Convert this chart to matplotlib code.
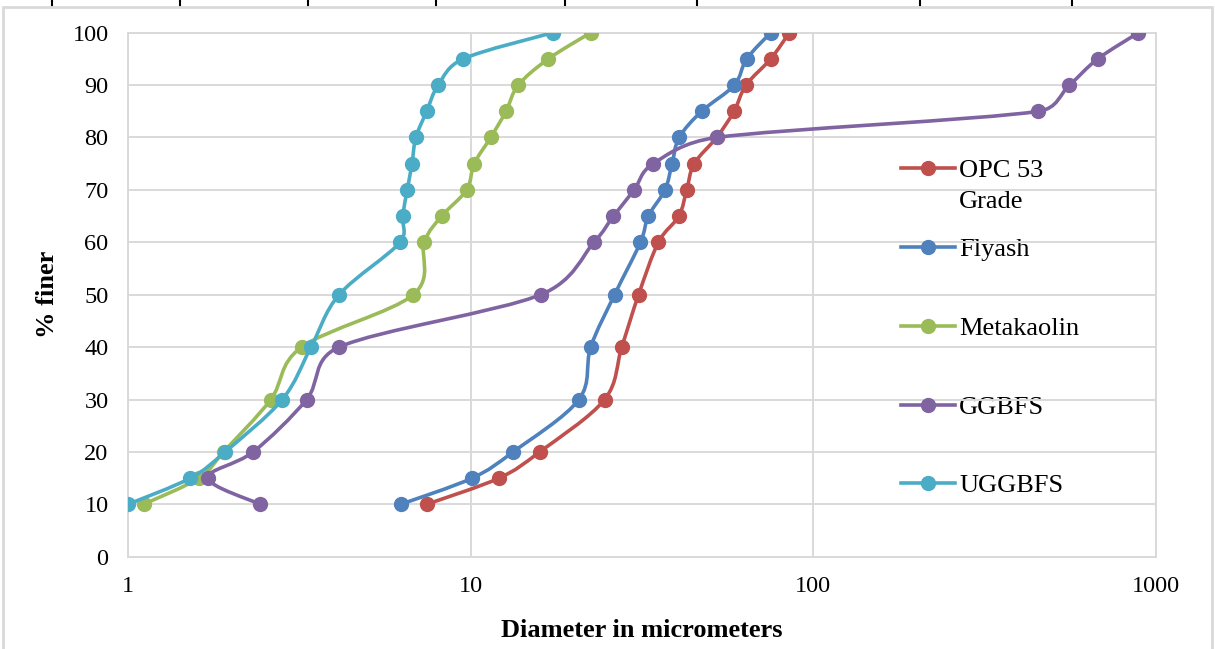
import numpy as np
import matplotlib
matplotlib.use("Agg")
import matplotlib.pyplot as plt
from matplotlib.path import Path
from matplotlib.patches import PathPatch, Rectangle
from matplotlib.lines import Line2D

plt.rcParams["font.family"] = ["Liberation Serif", "DejaVu Serif"]

# --------------------------------------------------
# DATA  (particle size distribution)
# --------------------------------------------------

PCT_FINER = [10, 15, 20, 30, 40, 50, 60, 65, 70, 75, 80, 85, 90, 95, 100]

OPC_53 = [7.44, 12.1, 15.9, 24.6, 27.6, 30.9, 35.3, 40.5, 42.7, 44.9, 52.2, 58.7, 63.6, 75.1, 85.1]
FLYASH = [6.25, 10.1, 13.3, 20.7, 22.4, 26.3, 31.3, 33.0, 36.9, 38.7, 40.6, 47.2, 58.8, 63.9, 75.1]
METAKAOLIN = [1.11, 1.61, 1.90, 2.61, 3.21, 6.80, 7.32, 8.23, 9.73, 10.24, 11.44, 12.68, 13.77, 16.85, 22.4]
GGBFS = [2.43, 1.71, 2.32, 3.32, 4.13, 16.0, 22.9, 26.1, 30.0, 34.1, 52.2, 454, 559, 676, 889]
UGGBFS = [1.0, 1.52, 1.92, 2.82, 3.42, 4.13, 6.22, 6.33, 6.53, 6.74, 6.92, 7.44, 8.04, 9.51, 17.35]

SERIES_NAMES = ["OPC 53\nGrade", "Flyash", "Metakaolin", "GGBFS", "UGGBFS"]
SERIES_DATA = [OPC_53, FLYASH, METAKAOLIN, GGBFS, UGGBFS]
COLORS = ["#C0504D", "#4F81BD", "#9BBB59", "#8064A2", "#4BACC6"]

GRID = "#d9d9d9"
W, H, DPI = 1215, 649, 100


def smooth_path(xs, ys, sx, sy):
    """Smoothed bezier through the points (log-x), tangents capped so
    short segments next to long ones don't overshoot. sx, sy = px per unit."""
    lx = np.log10(np.asarray(xs, dtype=float))
    y = np.asarray(ys, dtype=float)
    pts = np.column_stack([lx * sx, y * sy])  # screen-like space
    n = len(pts)
    verts = [pts[0]]
    codes = [Path.MOVETO]

    def tangent(i):
        a = pts[i - 1] if i > 0 else pts[i]
        b = pts[i + 1] if i + 1 < n else pts[i]
        return (b - a) / 6.0

    for i in range(n - 1):
        seg = np.hypot(*(pts[i + 1] - pts[i]))
        t0, t1 = tangent(i), tangent(i + 1)
        for t in (t0, t1):
            ln = np.hypot(*t)
            if ln > seg / 2 and ln > 0:
                t *= (seg / 2) / ln
        verts += [pts[i] + t0, pts[i + 1] - t1, pts[i + 1]]
        codes += [Path.CURVE4] * 3
    verts = np.array(verts)
    verts[:, 0] = 10 ** (verts[:, 0] / sx)
    verts[:, 1] = verts[:, 1] / sy
    return Path(verts, codes)


fig = plt.figure(figsize=(W / DPI, H / DPI), dpi=DPI)
ax_px = (128, 92.3, 1028, 524)
ax = fig.add_axes([ax_px[0] / W, ax_px[1] / H, ax_px[2] / W, ax_px[3] / H])

ax.set_xscale("log")
ax.set_xlim(1, 1000)
ax.set_ylim(0, 100)
ax.set_xticks([1, 10, 100, 1000])
ax.set_xticklabels(["1", "10", "100", "1000"])
ax.xaxis.set_minor_locator(matplotlib.ticker.NullLocator())
ax.set_yticks(range(0, 101, 10))
ax.tick_params(axis="both", length=0, labelsize=17.5)
ax.tick_params(axis="y", pad=14)
ax.tick_params(axis="x", pad=14)

ax.set_axisbelow(True)
ax.grid(True, color=GRID, lw=1.4)
for s in ax.spines.values():
    s.set_color(GRID)
    s.set_linewidth(1.4)

px_per_decade = ax_px[2] / 3.0
px_per_pct = ax_px[3] / 100.0
for k, (vals, color) in enumerate(zip(SERIES_DATA, COLORS)):
    patch = PathPatch(smooth_path(vals, PCT_FINER, px_per_decade, px_per_pct),
                      fill=False, edgecolor=color, lw=2.6, capstyle="round",
                      joinstyle="round", zorder=3 + 2 * k)
    ax.add_patch(patch)
    ax.plot(vals, PCT_FINER, "o", color=color, ms=10, mec=color, zorder=4 + 2 * k)

ax.set_xlabel("Diameter in micrometers", fontsize=19, fontweight="bold", labelpad=16)
ax.set_ylabel("% finer", fontsize=19, fontweight="bold", labelpad=10)

# legend drawn by hand so the wrapped label keeps its marker on the first line
leg_y = [0.7412, 0.5909, 0.4406, 0.2903, 0.1400]
line_step = 31 / ax_px[3]
for name, color, yy in zip(SERIES_NAMES, COLORS, leg_y):
    ax.add_line(Line2D([0.7516, 0.8045], [yy, yy], transform=ax.transAxes,
                       color=color, lw=2.6, zorder=20))
    ax.add_line(Line2D([0.778], [yy], transform=ax.transAxes, marker="o",
                       ms=10, color=color, zorder=21))
    for j, part in enumerate(name.split("\n")):
        ax.text(0.8086, yy - 0.006 - j * line_step, part, transform=ax.transAxes,
                fontsize=19, va="center", ha="left", zorder=0.3)

# chart frame and table borders above it
fig.patches.append(Rectangle((3 / W, -0.01), 1209 / W, 1 - 7 / H + 0.01,
                             transform=fig.transFigure, fill=False,
                             edgecolor=GRID, lw=2))
for px in [52, 180, 308, 436, 565, 697, 920, 1072]:
    fig.add_artist(Line2D([px / W, px / W], [1 - 5 / H, 1],
                          transform=fig.transFigure, color="black", lw=1.5))

fig.savefig("out.png", dpi=DPI)
